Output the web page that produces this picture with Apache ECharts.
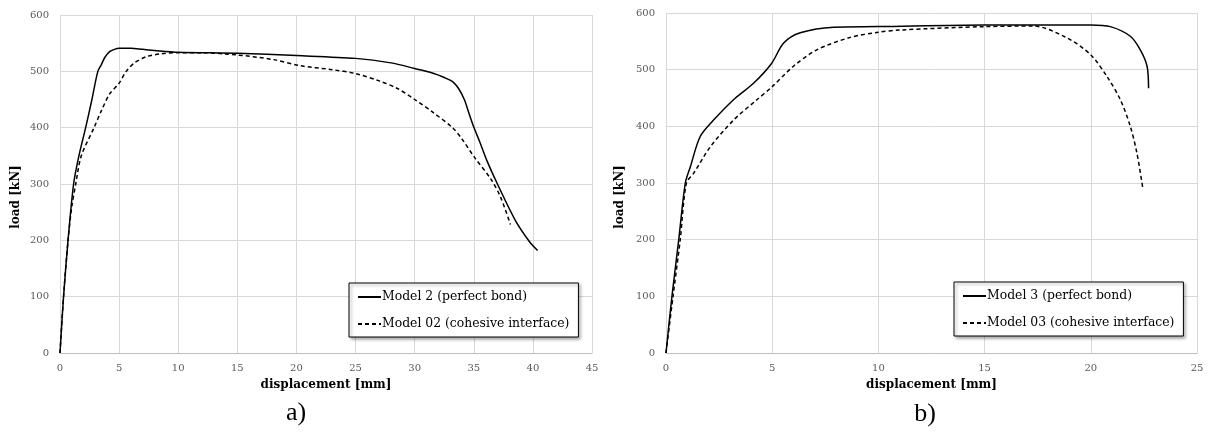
<!DOCTYPE html>
<html>
<head>
<meta charset="utf-8">
<script src="https://cdn.jsdelivr.net/npm/echarts@6/dist/echarts.min.js"></script>
<style>
  html, body { margin: 0; padding: 0; background: #fff; }
  #chart { width: 1208px; height: 432px; }
</style>
</head>
<body>
<div id="chart"></div>
<script>
// chart a) - Model 2 / Model 02
var model2X = [0, 0.3, 0.68, 1.15, 1.6, 2.17, 2.7, 3.2, 3.5, 3.8, 4.2, 4.6, 5.0, 6, 7, 8, 10, 15, 20, 25, 28, 30, 31.5, 32.5, 33.25, 33.7, 34.2, 34.6, 35, 35.5, 36.1, 37, 38.5, 39.7, 40.4];
var model2Y = [0, 100, 200, 300, 350, 400, 450, 500, 512, 525, 535, 539, 541, 541, 539, 537, 534, 532, 528, 523, 515, 505, 497, 489, 481, 470, 450, 425, 401, 375, 342, 300, 236, 198, 182];
var model02X = [0, 0.3, 0.68, 1.0, 1.33, 1.8, 2.88, 3.5, 4.2, 5.0, 5.6, 6.3, 7.3, 8.5, 10, 12, 15, 18, 20.3, 23, 25, 27, 28.5, 30, 31.5, 33.25, 34, 35, 36.5, 37.3, 38.1];
var model02Y = [0, 100, 200, 260, 300, 350, 400, 430, 460, 479, 500, 515, 526, 531, 533, 533, 529, 521, 510, 503, 496, 483, 470, 450, 428, 399, 380, 349, 307, 275, 228];

// chart b) - Model 3 / Model 03
var model3X = [0, 0.28, 0.6, 0.91, 1.15, 1.61, 2.24, 3.18, 4.12, 4.97, 5.54, 6.32, 7.89, 10, 15, 20, 20.92, 21.86, 22.33, 22.65, 22.72];
var model3Y = [0, 100, 200, 300, 329, 382, 411, 447, 476, 511, 547, 565, 575, 576, 579, 579, 576, 559, 535, 506, 467];
var model03X = [0, 0.33, 0.67, 0.96, 1.3, 2.09, 3.18, 4.28, 4.97, 6.0, 7.1, 8.68, 10, 11.03, 15, 17.3, 18.88, 20.0, 20.76, 21.39, 21.86, 22.17, 22.44];
var model03Y = [0, 100, 200, 300, 317, 364, 411, 447, 469, 506, 535, 557, 566, 570, 576, 577, 556, 526, 488, 447, 400, 353, 293];

var xTicksA = [0, 45, 5];   // min, max, interval
var xTicksB = [0, 25, 5];
var yTicks = [0, 600, 100];

function pairs(xs, ys) {
	var out = [];
	for (var i = 0; i < xs.length; i++) out.push([xs[i], ys[i]]);
	return out;
}

var serifFont = "'DejaVu Serif', serif";
var gridColor = '#d9d9d9';
var labelColor = '#595959';

function xAxisOf(idx, ticks) {
	return {
		type: 'value', gridIndex: idx, min: ticks[0], max: ticks[1], interval: ticks[2],
		name: 'displacement [mm]', nameLocation: 'middle', nameGap: 26,
		nameTextStyle: { fontFamily: serifFont, fontWeight: 'bold', fontSize: 12, color: '#000' },
		axisLine: { show: true, lineStyle: { color: '#bfbfbf', width: 1 } },
		axisTick: { show: false },
		axisLabel: { fontFamily: serifFont, fontSize: 10, color: labelColor, margin: 10 },
		splitLine: { show: true, lineStyle: { color: gridColor, width: 1 } }
	};
}

function yAxisOf(idx) {
	return {
		type: 'value', gridIndex: idx, min: yTicks[0], max: yTicks[1], interval: yTicks[2],
		axisLine: { show: false },
		axisTick: { show: false },
		axisLabel: { fontFamily: serifFont, fontSize: 10, color: labelColor, margin: 11 },
		splitLine: { show: true, lineStyle: { color: gridColor, width: 1 } }
	};
}

function lineSeries(name, idx, data, dashed) {
	return {
		name: name, type: 'line', xAxisIndex: idx, yAxisIndex: idx,
		data: data, symbol: 'none', smooth: 0.3,
		lineStyle: { color: '#000', width: 1.5, type: dashed ? [4, 3] : 'solid' },
		itemStyle: { color: '#000' }
	};
}

function legendOf(names, left, top) {
	return {
		data: names, orient: 'vertical', left: left, top: top,
		itemWidth: 23, itemHeight: 14, itemGap: 15,
		padding: [8, 9, 7, 8],
		itemStyle: { opacity: 0 },
		backgroundColor: '#fff', borderColor: '#000', borderWidth: 1,
		shadowColor: 'rgba(0,0,0,0.35)', shadowBlur: 3, shadowOffsetX: 2, shadowOffsetY: 2,
		textStyle: { fontFamily: serifFont, fontSize: 12.4, color: '#000', padding: [0, 0, 0, -4] }
	};
}

var chart = echarts.init(document.getElementById('chart'));
chart.setOption({
	animation: false,
	backgroundColor: '#fff',
	grid: [
		{ left: 60, top: 15, width: 532, height: 338 },
		{ left: 666, top: 13, width: 531, height: 340 }
	],
	xAxis: [xAxisOf(0, xTicksA), xAxisOf(1, xTicksB)],
	yAxis: [yAxisOf(0), yAxisOf(1)],
	legend: [
		legendOf(['Model 2 (perfect bond)', 'Model 02 (cohesive interface)'], 349, 283),
		legendOf(['Model 3 (perfect bond)', 'Model 03 (cohesive interface)'], 954, 282)
	],
	series: [
		lineSeries('Model 2 (perfect bond)', 0, pairs(model2X, model2Y), false),
		lineSeries('Model 02 (cohesive interface)', 0, pairs(model02X, model02Y), true),
		lineSeries('Model 3 (perfect bond)', 1, pairs(model3X, model3Y), false),
		lineSeries('Model 03 (cohesive interface)', 1, pairs(model03X, model03Y), true)
	],
	graphic: [
		{ type: 'text', x: 16, y: 197, rotation: Math.PI / 2,
		  style: { text: 'load [kN]', font: "bold 12px 'DejaVu Serif', serif", fill: '#000', align: 'center', verticalAlign: 'middle' } },
		{ type: 'text', x: 620, y: 197, rotation: Math.PI / 2,
		  style: { text: 'load [kN]', font: "bold 12px 'DejaVu Serif', serif", fill: '#000', align: 'center', verticalAlign: 'middle' } },
		{ type: 'text', x: 296, y: 413,
		  style: { text: 'a)', font: "26px 'Liberation Serif', serif", fill: '#000', align: 'center', verticalAlign: 'middle' } },
		{ type: 'text', x: 925, y: 414,
		  style: { text: 'b)', font: "26px 'Liberation Serif', serif", fill: '#000', align: 'center', verticalAlign: 'middle' } }
	]
});
</script>
</body>
</html>
